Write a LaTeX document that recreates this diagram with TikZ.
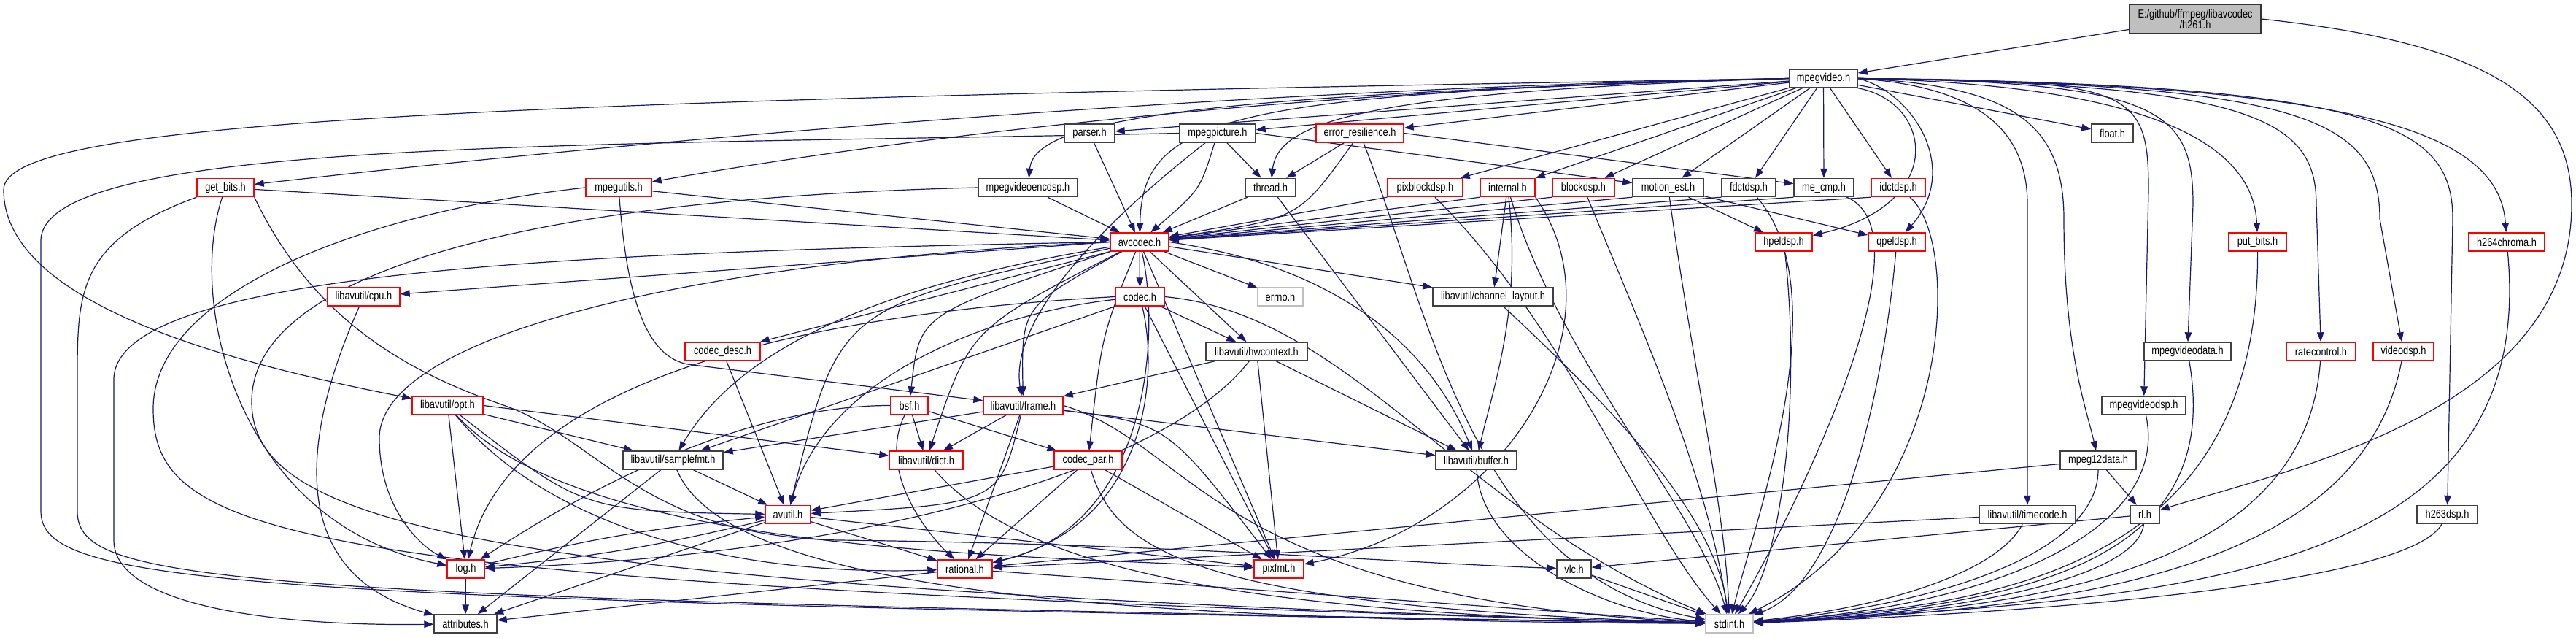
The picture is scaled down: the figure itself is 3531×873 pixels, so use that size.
\documentclass[tikz,border=0pt]{standalone}
\usepackage{fontspec}
\usepackage{graphicx}
\newfontfamily\dfont{Liberation Sans}
\usetikzlibrary{arrows.meta}
\pgfdeclarelayer{bg}
\pgfsetlayers{bg,main}
\definecolor{edgec}{RGB}{25,25,112}
\definecolor{rdc}{RGB}{255,0,0}
\definecolor{gyc}{RGB}{191,191,191}
\definecolor{bkc}{RGB}{64,64,64}
\newcommand{\nl}[1]{\scalebox{1}[1.22]{#1}}
\newcommand{\dnode}[6]{\node[#2,minimum width=#5pt] (#1) at (#3,#4) {\nl{#6}};}
\tikzset{
 nb/.style={draw=#1, line width=1.4pt, fill=white, minimum height=25pt, inner sep=0pt, font=\dfont\fontsize{12.8}{14}\selectfont},
 bk/.style={nb=bkc}, rd/.style={nb=rdc}, gy/.style={nb=gyc},
 e/.style={draw=edgec, line width=1.2pt, -{Triangle[length=13pt,width=9.5pt]}}
}
\begin{document}
\begin{tikzpicture}[x=1pt,y=-1pt]
\useasboundingbox (0,0) rectangle (3531,873);
\node[draw=black!80, fill=gyc, line width=1.4pt, minimum width=180pt, minimum height=40pt, inner sep=0pt, align=center, font=\dfont\fontsize{12.8}{15}\selectfont] (h261) at (3009,26) {\nl{E:/github/ffmpeg/libavcodec}\\\nl{/h261.h}};
\dnode{mv}{bk}{2499.5}{107.5}{93}{mpegvideo.h}
\dnode{parser}{bk}{1493.5}{182.5}{69}{parser.h}
\dnode{mpic}{bk}{1669}{182.5}{104}{mpegpicture.h}
\dnode{erres}{rd}{1864}{182.5}{120}{error\_resilience.h}
\dnode{float}{bk}{2895.5}{182.5}{57}{float.h}
\dnode{getbits}{rd}{309}{257}{78}{get\_bits.h}
\dnode{mpegutils}{rd}{848}{257}{90}{mpegutils.h}
\dnode{encdsp}{bk}{1409}{257}{136}{mpegvideoencdsp.h}
\dnode{thread}{bk}{1741.5}{257}{69}{thread.h}
\dnode{pixblk}{rd}{1953.5}{257}{103}{pixblockdsp.h}
\dnode{internal}{rd}{2066.5}{257}{75}{internal.h}
\dnode{blockdsp}{rd}{2170.5}{257}{85}{blockdsp.h}
\dnode{mest}{bk}{2286.5}{257}{97}{motion\_est.h}
\dnode{fdct}{bk}{2397}{257}{74}{fdctdsp.h}
\dnode{mecmp}{bk}{2500}{257}{82}{me\_cmp.h}
\dnode{idct}{rd}{2602}{257}{74}{idctdsp.h}
\dnode{avcodec}{rd}{1562}{331.5}{80}{avcodec.h}
\dnode{hpel}{rd}{2445}{331.5}{78}{hpeldsp.h}
\dnode{qpel}{rd}{2600}{331.5}{78}{qpeldsp.h}
\dnode{putbits}{rd}{3094.5}{331.5}{79}{put\_bits.h}
\dnode{h264c}{rd}{3436}{331.5}{104}{h264chroma.h}
\dnode{cpu}{rd}{498.5}{406.5}{99}{libavutil/cpu.h}
\dnode{codec}{rd}{1562.5}{406.5}{67}{codec.h}
\dnode{errno}{gy}{1755}{406.5}{62}{errno.h}
\dnode{chlayout}{bk}{2046.5}{406.5}{165}{libavutil/channel\_layout.h}
\dnode{codecdesc}{rd}{990.5}{481.5}{103}{codec\_desc.h}
\dnode{hwctx}{bk}{1722.5}{481.5}{139}{libavutil/hwcontext.h}
\dnode{mvdata}{bk}{2998.5}{481.5}{119}{mpegvideodata.h}
\dnode{ratectl}{rd}{3181.5}{481.5}{95}{ratecontrol.h}
\dnode{videodsp}{rd}{3294.5}{481.5}{83}{videodsp.h}
\dnode{opt}{rd}{613.5}{555.5}{97}{libavutil/opt.h}
\dnode{bsf}{rd}{1246.5}{555.5}{51}{bsf.h}
\dnode{frame}{rd}{1402.5}{555.5}{109}{libavutil/frame.h}
\dnode{mvdsp}{bk}{2938.5}{555.5}{115}{mpegvideodsp.h}
\dnode{smpfmt}{bk}{922.5}{630.5}{137}{libavutil/samplefmt.h}
\dnode{dict}{rd}{1269.5}{630.5}{101}{libavutil/dict.h}
\dnode{codecpar}{rd}{1491.5}{630.5}{93}{codec\_par.h}
\dnode{buffer}{bk}{2023.5}{630.5}{111}{libavutil/buffer.h}
\dnode{m12data}{bk}{2876}{630.5}{104}{mpeg12data.h}
\dnode{avutil}{rd}{1080}{705}{62}{avutil.h}
\dnode{timecode}{bk}{2779}{705}{132}{libavutil/timecode.h}
\dnode{rl}{bk}{2940}{705}{40}{rl.h}
\dnode{h263}{bk}{3354.5}{705}{83}{h263dsp.h}
\dnode{log}{rd}{638.5}{779.5}{51}{log.h}
\dnode{rational}{rd}{1322.5}{779.5}{75}{rational.h}
\dnode{pixfmt}{rd}{1753}{779.5}{68}{pixfmt.h}
\dnode{vlc}{bk}{2157.5}{779.5}{47}{vlc.h}
\dnode{attr}{bk}{638}{854.5}{86}{attributes.h}
\dnode{stdint}{gy}{2370.5}{854.5}{65}{stdint.h}

\begin{pgfonlayer}{bg}
\fill[white] (0,0) rectangle (3531,873);
% h261
\draw[e] (h261) -- (mv);
\draw[e] (h261.east) .. controls (3420,60) and (3525,140) .. (3525,280) .. controls (3525,560) and (3150,640) .. (rl);
% mpegvideo
\draw[e] (mv) -- (float);
\draw[e] (mv.west) .. controls (1680,128) and (1566,160) .. (avcodec);
\draw[e] (mv) -- (parser);
\draw[e] (mv) -- (mpic);
\draw[e] (mv) -- (erres);
\draw[e] (mv.west) .. controls (1880,125) and (1752,165) .. (thread);
\draw[e] (mv.west) .. controls (1620,130) and (1418,165) .. (encdsp);
\draw[e] (mv.west) .. controls (1800,118) and (1000,178) .. (getbits);
\draw[e] (mv.west) .. controls (2000,115) and (1400,160) .. (mpegutils);
\draw[e] (mv.west) .. controls (600,138) and (5,168) .. (5,260) .. controls (5,420) and (330,500) .. (opt);
\draw[e] (mv) -- (pixblk);
\draw[e] (mv) -- (internal);
\draw[e] (mv) -- (blockdsp);
\draw[e] (mv) -- (mest);
\draw[e] (mv) -- (fdct);
\draw[e] (mv) -- (mecmp);
\draw[e] (mv) -- (idct);
\draw[e] (mv.south east) .. controls (2650,140) and (2670,280) .. (hpel);
\draw[e] (mv.east) .. controls (2620,125) and (2690,230) .. (qpel);
\draw[e] (mv.east) .. controls (2900,115) and (3088,180) .. (putbits);
\draw[e] (mv.east) .. controls (3200,115) and (3425,170) .. (h264c);
\draw[e] (mv.east) .. controls (2700,118) and (2779,170) .. (2779,280) -- (timecode);
\draw[e] (mv.east) .. controls (2760,117) and (2829,170) .. (2829,300) .. controls (2829,480) and (2860,560) .. (m12data);
\draw[e] (mv.east) .. controls (2920,110) and (2945,120) .. (2945,260) -- (mvdsp);
\draw[e] (mv.east) .. controls (2960,112) and (3006,150) .. (3006,280) -- (mvdata);
\draw[e] (mv.east) .. controls (3080,115) and (3175,160) .. (3175,280) -- (ratectl);
\draw[e] (mv.east) .. controls (3150,115) and (3262,160) .. (3262,300) -- (videodsp);
\draw[e] (mv.east) .. controls (3260,115) and (3362,170) .. (3362,300) -- (h263);
% second level
\draw[e] (parser) -- (avcodec);
\draw[e] (mpic) .. controls (1645,260) .. (avcodec);
\draw[e] (mpic) -- (thread);
\draw[e] (mpic.east) -- (mest);
\draw[e] (mpic) .. controls (1480,330) and (1385,450) .. (frame);
\draw[e] (mpic.west) .. controls (800,200) and (56,190) .. (56,330) -- (56,700) .. controls (56,800) and (300,822) .. (stdint);
\draw[e] (encdsp) -- (avcodec);
\draw[e] (encdsp.west) .. controls (700,272) and (345,380) .. (345,550) .. controls (345,720) and (650,805) .. (stdint);
\draw[e] (erres) .. controls (1780,300) .. (avcodec);
\draw[e] (erres) -- (thread);
\draw[e] (erres.east) -- (mecmp);
\draw[e] (erres) .. controls (1960,430) and (2020,790) .. (stdint);
\draw[e] (thread) -- (avcodec);
\draw[e] (thread) -- (buffer);
\draw[e] (pixblk.south west) -- (avcodec);
\draw[e] (pixblk) .. controls (2150,450) and (2250,720) .. (stdint);
\draw[e] (internal.south west) -- (avcodec);
\draw[e] (internal) -- (chlayout);
\draw[e] (internal) .. controls (2085,420) and (2050,520) .. (buffer);
\draw[e] (internal.south east) .. controls (2230,450) and (2060,720) .. (pixfmt);
\draw[e] (internal) .. controls (2140,500) and (2330,700) .. (stdint);
\draw[e] (blockdsp.south west) -- (avcodec);
\draw[e] (blockdsp) .. controls (2250,450) and (2340,650) .. (stdint);
\draw[e] (mest.south west) -- (avcodec);
\draw[e] (mest) -- (hpel);
\draw[e] (mest) -- (qpel);
\draw[e] (mest) .. controls (2320,500) and (2365,700) .. (stdint);
\draw[e] (fdct.south west) -- (avcodec);
\draw[e] (fdct) .. controls (2520,400) and (2410,700) .. (stdint);
\draw[e] (mecmp.south west) -- (avcodec);
\draw[e] (mecmp) .. controls (2650,320) and (2460,700) .. (stdint);
\draw[e] (idct.south west) -- (avcodec);
\draw[e] (idct) .. controls (2690,330) and (2680,700) .. (stdint);
\draw[e] (hpel) .. controls (2470,550) and (2440,780) .. (stdint);
\draw[e] (qpel) .. controls (2580,550) and (2520,800) .. (stdint);
\draw[e] (putbits) .. controls (3097,800) and (2700,830) .. (stdint);
\draw[e] (h264c) .. controls (3480,790) and (3000,820) .. (stdint);
\draw[e] (mvdata) .. controls (3047,760) and (2800,830) .. (stdint);
\draw[e] (ratectl) .. controls (3160,780) and (2800,835) .. (stdint);
\draw[e] (videodsp) .. controls (3237,780) and (2850,835) .. (stdint);
\draw[e] (mvdsp) .. controls (2975,720) and (2750,830) .. (stdint);
\draw[e] (m12data) .. controls (2876,760) and (2650,830) .. (stdint);
\draw[e] (m12data) -- (rational);
\draw[e] (m12data) -- (rl);
\draw[e] (timecode) -- (rational);
\draw[e] (timecode) .. controls (2740,780) and (2600,830) .. (stdint);
\draw[e] (rl) -- (vlc);
\draw[e] (rl) .. controls (2930,790) and (2700,840) .. (stdint);
\draw[e] (h263) .. controls (3300,800) and (2800,840) .. (stdint);
\draw[e] (vlc) -- (stdint);
% avcodec
\draw[e] (avcodec) -- (codec);
\draw[e] (avcodec) -- (errno);
\draw[e] (avcodec) -- (chlayout);
\draw[e] (avcodec.east) .. controls (1800,360) and (1950,450) .. (buffer);
\draw[e] (avcodec) -- (hwctx);
\draw[e] (avcodec) -- (pixfmt);
\draw[e] (avcodec) .. controls (1590,450) and (1580,720) .. (rational);
\draw[e] (avcodec) .. controls (1510,460) .. (codecpar);
\draw[e] (avcodec) .. controls (1400,420) .. (frame);
\draw[e] (avcodec) .. controls (1260,430) .. (bsf);
\draw[e] (avcodec) .. controls (1330,450) .. (dict);
\draw[e] (avcodec) .. controls (1150,420) .. (avutil);
\draw[e] (avcodec) .. controls (1150,400) and (1000,500) .. (smpfmt);
\draw[e] (avcodec.south west) -- (codecdesc);
\draw[e] (avcodec.west) -- (cpu);
\draw[e] (avcodec.west) .. controls (800,345) and (156,370) .. (156,520) -- (156,740) .. controls (156,835) and (400,858) .. (attr);
\draw[e] (avcodec.west) .. controls (900,360) and (520,470) .. (520,600) .. controls (520,700) and (580,750) .. (log);
% codec
\draw[e] (codec) .. controls (1350,430) and (1130,520) .. (avutil);
\draw[e] (codec) -- (hwctx);
\draw[e] (codec.west) .. controls (1100,430) and (700,520) .. (log);
\draw[e] (codec) -- (pixfmt);
\draw[e] (codec) .. controls (1590,520) and (1570,720) .. (rational);
\draw[e] (codec.south west) -- (smpfmt);
\draw[e] (codec.east) .. controls (1850,430) and (2000,700) .. (stdint);
% others
\draw[e] (codecdesc) -- (avutil);
\draw[e] (bsf) -- (dict);
\draw[e] (bsf.west) .. controls (1050,555) and (850,640) .. (log);
\draw[e] (bsf) .. controls (1200,650) and (1280,740) .. (rational);
\draw[e] (bsf) -- (codecpar);
\draw[e] (codecpar) -- (avutil);
\draw[e] (codecpar) -- (rational);
\draw[e] (codecpar) -- (pixfmt);
\draw[e] (codecpar) .. controls (1530,760) and (1650,830) .. (stdint);
\draw[e] (frame) -- (smpfmt);
\draw[e] (frame) -- (dict);
\draw[e] (frame) .. controls (1370,690) .. (avutil);
\draw[e] (frame) -- (rational);
\draw[e] (frame) -- (buffer);
\draw[e] (frame) .. controls (1600,580) .. (pixfmt);
\draw[e] (frame.east) .. controls (1640,610) and (1660,820) .. (stdint);
\draw[e] (dict) .. controls (1400,780) and (1700,840) .. (stdint);
\draw[e] (hwctx) -- (buffer);
\draw[e] (hwctx) -- (frame);
\draw[e] (hwctx) .. controls (1600,640) and (1200,760) .. (log);
\draw[e] (hwctx) -- (pixfmt);
\draw[e] (opt) .. controls (800,700) .. (avutil);
\draw[e] (opt.east) -- (dict);
\draw[e] (opt) -- (log);
\draw[e] (opt) .. controls (800,760) and (1400,760) .. (pixfmt);
\draw[e] (opt) .. controls (750,720) and (1000,790) .. (rational);
\draw[e] (opt) -- (smpfmt);
\draw[e] (smpfmt) -- (attr);
\draw[e] (smpfmt) -- (avutil);
\draw[e] (smpfmt) .. controls (1000,820) and (1600,850) .. (stdint);
\draw[e] (avutil) -- (attr);
\draw[e] (avutil) to[bend left=4] (log);
\draw[e] (log) to[bend left=4] (avutil);
\draw[e] (avutil) -- (pixfmt);
\draw[e] (avutil) -- (rational);
\draw[e] (log) -- (attr);
\draw[e] (rational) -- (attr);
\draw[e] (rational) -- (stdint);
\draw[e] (cpu) .. controls (430,560) and (370,780) .. (attr);
\draw[e] (buffer) .. controls (2030,760) and (2200,840) .. (stdint);
\draw[e] (chlayout) .. controls (2200,550) and (2350,700) .. (stdint);
\draw[e] (getbits) -- (avcodec);
\draw[e] (getbits) .. controls (255,420) and (330,720) .. (log);
\draw[e] (getbits.south west) .. controls (106,330) and (106,400) .. (106,520) -- (106,700) .. controls (106,800) and (300,818) .. (stdint);
\draw[e] (getbits.south east) .. controls (430,440) and (560,510) .. (690,555) .. controls (820,600) and (880,735) .. (1150,740) .. controls (1600,745) and (1900,770) .. (vlc);
\draw[e] (mpegutils) -- (avcodec);
\draw[e] (mpegutils) .. controls (860,420) and (890,495) .. (950,500) -- (frame);
\draw[e] (mpegutils.west) .. controls (500,290) and (210,400) .. (210,560) .. controls (210,740) and (400,800) .. (stdint);
\end{pgfonlayer}
\end{tikzpicture}
\end{document}
